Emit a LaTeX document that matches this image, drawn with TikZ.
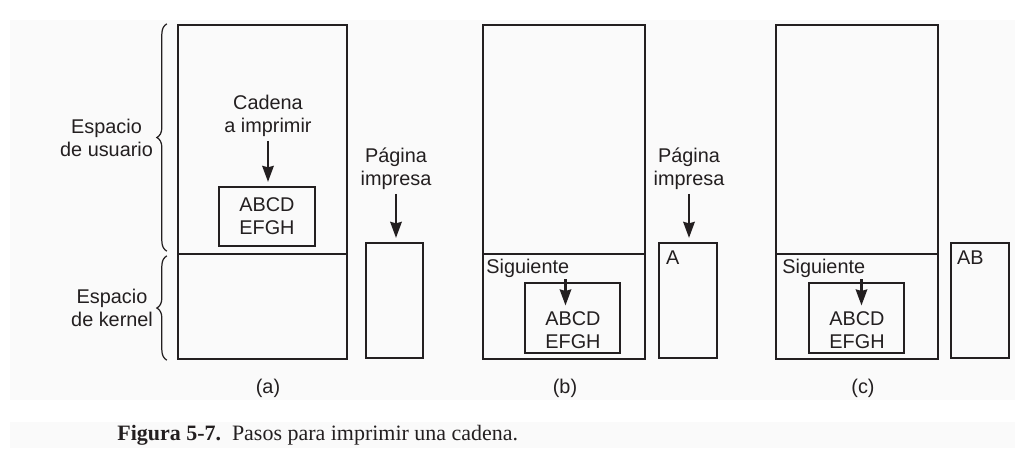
\documentclass[tikz,border=0pt]{standalone}
\usepackage{fontspec}
\setmainfont{Liberation Sans}
\newfontfamily\capfont{Liberation Serif}
\usetikzlibrary{arrows.meta, positioning, fit, decorations.pathreplacing}
\definecolor{ink}{HTML}{231F20}
\definecolor{band}{HTML}{FAFAFA}

\begin{document}
\begin{tikzpicture}[
  x=0.02cm, y=-0.02cm,
  >={Stealth[length=3.2mm, width=2.3mm, inset=0.3mm]},
  every node/.style={font=\fontsize{11.3}{13}\selectfont, text=ink},
  spacebox/.style={draw=ink, line width=1.3pt, inner sep=0pt},
  strbox/.style={draw=ink, line width=1.3pt, inner sep=0pt, align=center},
  pagebox/.style={draw=ink, line width=1.3pt, inner sep=0pt},
  arr/.style={->, line width=1.3pt, draw=ink, shorten >=0.08cm, shorten <=0.04cm},
  lbl/.style={align=center, inner sep=1pt},
  spacebrace/.style={draw=ink, line width=0.7pt,
    decorate, decoration={brace, amplitude=2mm, aspect=0.5}},
]

% Background
\useasboundingbox (0,0) rectangle (1035,461);
\fill[band] (10,20) rectangle (1015,400);
\fill[band] (10,422) rectangle (1015,448);

% =============================================
% (a) String still in user space
% =============================================
\node[spacebox, fit={(178,25) (347,254)}] (userA) {};
\node[spacebox, fit={(178,254) (347,359)}] (kernA) {};

\draw[spacebrace] ([shift={(-10,-4)}]userA.south west) -- ([shift={(-10,0)}]userA.north west);
\draw[spacebrace] ([shift={(-10,0)}]kernA.south west) -- ([shift={(-10,3)}]kernA.north west);
\node[lbl, anchor=east] (usrlbl) at (155,138) {Espacio\\de usuario};
\node[lbl, anchor=east] (krnlbl) at (155,308) {Espacio\\de kernel};

\node[lbl] (cadA) at (268,116) {Cadena\\a imprimir};
\node[strbox, minimum width=1.92cm, minimum height=1.18cm] (strA) at (267,216.5)
  {ABCD\\EFGH};
\draw[arr] (cadA.south) -- (cadA.south |- strA.north);

\node[pagebox, fit={(366,243) (423,358)}] (pageA) {};
\node[lbl] (pagA) at (396,169) {Página\\impresa};
\draw[arr] (pagA.south) -- (pagA.south |- pageA.north);

\node (capA) at (268,388) {(a)};

% =============================================
% (b) String copied to kernel, first char printed
% =============================================
\node[spacebox, fit={(483,25) (645,254)}] (userB) {};
\node[spacebox, fit={(483,254) (645,359)}] (kernB) {};

\node[strbox, fit={(525,283) (620,353)}] (boxB) {};
\node[lbl] (strB) at (573,330) {ABCD\\EFGH};
\node[anchor=base west, inner sep=0pt] (sigB) at (486,273) {Siguiente};
\draw[arr] ([xshift=-0.08cm]sigB.south east) -- ([xshift=-0.08cm]sigB.south east |- strB.north);

\node[pagebox, fit={(659,243) (717,358)}] (pageB) {};
\node[lbl] (pagB) at (689,169) {Página\\impresa};
\draw[arr] (pagB.south) -- (pagB.south |- pageB.north);
\node[anchor=north west, inner sep=0pt] (outB) at ([shift={(8,9)}]pageB.north west) {A};

\node (capB) at (565,388) {(b)};

% =============================================
% (c) Second char printed
% =============================================
\node[spacebox, fit={(776,25) (938,254)}] (userC) {};
\node[spacebox, fit={(776,254) (938,359)}] (kernC) {};

\node[strbox, fit={(809,283) (904,353)}] (boxC) {};
\node[lbl] (strC) at (857,330) {ABCD\\EFGH};
\node[anchor=base west, inner sep=0pt] (sigC) at (782,273) {Siguiente};
\draw[arr] ([xshift=-0.08cm]sigC.south east) -- ([xshift=-0.08cm]sigC.south east |- strC.north);

\node[pagebox, fit={(951,243) (1009,358)}] (pageC) {};
\node[anchor=north west, inner sep=0pt] (outC) at ([shift={(7,9)}]pageC.north west) {AB};

\node (capC) at (863,388) {(c)};

% Caption
\node[anchor=base west, inner sep=0pt, font=\capfont\fontsize{12.5}{15}\selectfont]
  (caption) at (117,440) {\textbf{Figura 5-7.}\ \ Pasos para imprimir una cadena.};

\end{tikzpicture}
\end{document}
